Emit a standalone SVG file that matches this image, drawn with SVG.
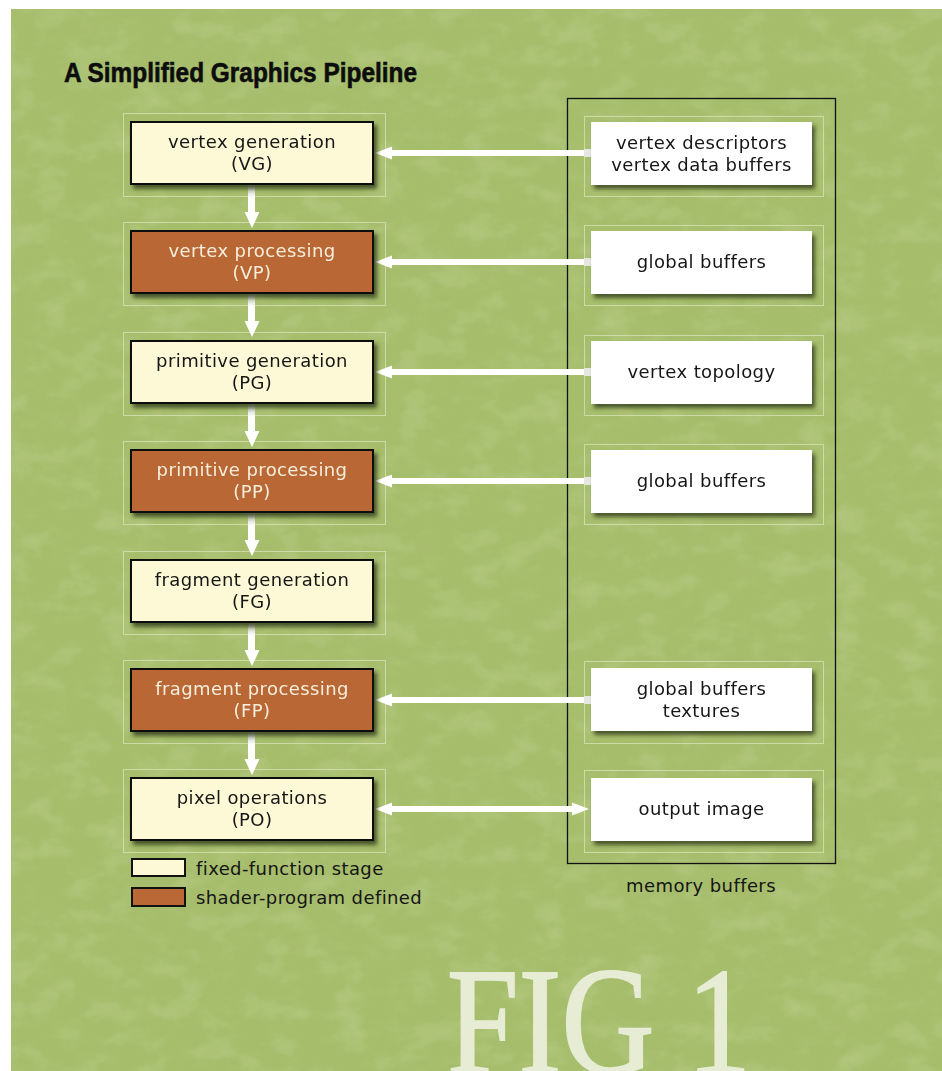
<svg xmlns="http://www.w3.org/2000/svg" width="942" height="1071" viewBox="0 0 942 1071">
<defs>
<style>
.lbl{font-family:"DejaVu Sans","Liberation Sans",sans-serif;font-size:18px;letter-spacing:0.4px;text-anchor:middle;fill:#151515}
.lbl.light{fill:#f6eedc}
.leg{font-family:"DejaVu Sans","Liberation Sans",sans-serif;font-size:18px;letter-spacing:0.4px;fill:#151515}
.fixed{fill:#fdf8d6;stroke:#111;stroke-width:2}
.shader{fill:#b96836;stroke:#111;stroke-width:2}
.mem{fill:#ffffff}
.faint{fill:none;stroke:#d6e2b4;stroke-width:1;opacity:0.8}
.hline{fill:#ffffff}
</style>
<filter id="shadow" x="-10%" y="-20%" width="125%" height="150%">
<feDropShadow dx="3" dy="4" stdDeviation="2" flood-color="#2a3318" flood-opacity="0.75"/>
</filter>
<filter id="tex" x="0" y="0" width="100%" height="100%">
<feTurbulence type="fractalNoise" baseFrequency="0.03 0.045" numOctaves="4" seed="7" result="n"/>
<feColorMatrix in="n" type="matrix" values="0 0 0 0 0.8  0 0 0 0 0.88  0 0 0 0 0.58  0 0 0 1.6 -0.7"/>
</filter>
<linearGradient id="vgrad" x1="0" y1="0" x2="0" y2="1">
<stop offset="0" stop-color="#b8bcb0"/>
<stop offset="0.45" stop-color="#ffffff"/>
<stop offset="1" stop-color="#ffffff"/>
</linearGradient>
</defs>

<rect x="0" y="0" width="942" height="1071" fill="#ffffff"/>
<rect x="11" y="9" width="931" height="1062" fill="#a6bd6c"/>
<rect x="11" y="9" width="931" height="1062" filter="url(#tex)" opacity="0.25"/>

<text x="64" y="82" font-family="'Liberation Sans',Arial,sans-serif" font-weight="bold" font-size="27" textLength="353" lengthAdjust="spacingAndGlyphs" fill="#0d0d0d" stroke="#0d0d0d" stroke-width="0.6">A Simplified Graphics Pipeline</text>

<text x="447" y="1073" font-family="'Liberation Serif','Times New Roman',serif" font-size="152" textLength="304" lengthAdjust="spacingAndGlyphs" fill="#edf0de" stroke="#edf0de" stroke-width="2" opacity="0.92">FIG 1</text>

<g id="memory-buffers">
<rect x="567.5" y="98.5" width="268" height="765" fill="none" stroke="#111" stroke-width="1.3"/>
<text class="leg" x="701" y="892" text-anchor="middle">memory buffers</text>
</g>

<g id="faint-frames">
<rect class="faint" x="123.5" y="113.5" width="262" height="83"/>
<rect class="faint" x="123.5" y="222.5" width="262" height="83"/>
<rect class="faint" x="123.5" y="332.5" width="262" height="83"/>
<rect class="faint" x="123.5" y="441.5" width="262" height="83"/>
<rect class="faint" x="123.5" y="551.5" width="262" height="83"/>
<rect class="faint" x="123.5" y="660.5" width="262" height="83"/>
<rect class="faint" x="123.5" y="769.5" width="262" height="83"/>
<rect class="faint" x="584.5" y="116.5" width="239" height="80"/>
<rect class="faint" x="584.5" y="225.5" width="239" height="80"/>
<rect class="faint" x="584.5" y="335.5" width="239" height="80"/>
<rect class="faint" x="584.5" y="444.5" width="239" height="80"/>
<rect class="faint" x="584.5" y="661.5" width="239" height="82"/>
<rect class="faint" x="584.5" y="770.5" width="239" height="82"/>
</g>

<g id="connectors">
<rect x="248" y="185" width="7" height="28" fill="url(#vgrad)"/>
<polygon points="244.5,212 259.5,212 252,228" fill="#fff"/>
<rect x="248" y="294" width="7" height="28" fill="url(#vgrad)"/>
<polygon points="244.5,321 259.5,321 252,337" fill="#fff"/>
<rect x="248" y="404" width="7" height="28" fill="url(#vgrad)"/>
<polygon points="244.5,431 259.5,431 252,447" fill="#fff"/>
<rect x="248" y="513" width="7" height="28" fill="url(#vgrad)"/>
<polygon points="244.5,540 259.5,540 252,556" fill="#fff"/>
<rect x="248" y="623" width="7" height="28" fill="url(#vgrad)"/>
<polygon points="244.5,650 259.5,650 252,666" fill="#fff"/>
<rect x="248" y="732" width="7" height="28" fill="url(#vgrad)"/>
<polygon points="244.5,759 259.5,759 252,775" fill="#fff"/>
<rect class="hline" x="390" y="150" width="195" height="6"/>
<rect x="584" y="149" width="8" height="8" fill="#e6e6e2"/>
<polygon points="375,153 392,146.5 392,159.5" fill="#fff"/>
<rect class="hline" x="390" y="259" width="195" height="6"/>
<rect x="584" y="258" width="8" height="8" fill="#e6e6e2"/>
<polygon points="375,262 392,255.5 392,268.5" fill="#fff"/>
<rect class="hline" x="390" y="369" width="195" height="6"/>
<rect x="584" y="368" width="8" height="8" fill="#e6e6e2"/>
<polygon points="375,372 392,365.5 392,378.5" fill="#fff"/>
<rect class="hline" x="390" y="478" width="195" height="6"/>
<rect x="584" y="477" width="8" height="8" fill="#e6e6e2"/>
<polygon points="375,481 392,474.5 392,487.5" fill="#fff"/>
<rect class="hline" x="390" y="697" width="195" height="6"/>
<rect x="584" y="696" width="8" height="8" fill="#e6e6e2"/>
<polygon points="375,700 392,693.5 392,706.5" fill="#fff"/>
<rect class="hline" x="390" y="806" width="184" height="6"/>
<polygon points="375,809 392,802.5 392,815.5" fill="#fff"/>
<polygon points="589,809 572,802.5 572,815.5" fill="#fff"/>
</g>

<g id="node-VG" filter="url(#shadow)">
<rect class="fixed" x="131" y="122" width="242" height="62"/>
<text class="lbl" x="252" y="148">vertex generation</text>
<text class="lbl" x="252" y="170">(VG)</text>
</g>
<g id="node-VP" filter="url(#shadow)">
<rect class="shader" x="131" y="231" width="242" height="62"/>
<text class="lbl light" x="252" y="257">vertex processing</text>
<text class="lbl light" x="252" y="279">(VP)</text>
</g>
<g id="node-PG" filter="url(#shadow)">
<rect class="fixed" x="131" y="341" width="242" height="62"/>
<text class="lbl" x="252" y="367">primitive generation</text>
<text class="lbl" x="252" y="389">(PG)</text>
</g>
<g id="node-PP" filter="url(#shadow)">
<rect class="shader" x="131" y="450" width="242" height="62"/>
<text class="lbl light" x="252" y="476">primitive processing</text>
<text class="lbl light" x="252" y="498">(PP)</text>
</g>
<g id="node-FG" filter="url(#shadow)">
<rect class="fixed" x="131" y="560" width="242" height="62"/>
<text class="lbl" x="252" y="586">fragment generation</text>
<text class="lbl" x="252" y="608">(FG)</text>
</g>
<g id="node-FP" filter="url(#shadow)">
<rect class="shader" x="131" y="669" width="242" height="62"/>
<text class="lbl light" x="252" y="695">fragment processing</text>
<text class="lbl light" x="252" y="717">(FP)</text>
</g>
<g id="node-PO" filter="url(#shadow)">
<rect class="fixed" x="131" y="778" width="242" height="62"/>
<text class="lbl" x="252" y="804">pixel operations</text>
<text class="lbl" x="252" y="826">(PO)</text>
</g>

<g id="mem-vertex" filter="url(#shadow)">
<rect class="mem" x="591" y="122" width="221" height="63"/>
<text class="lbl" x="701.5" y="149">vertex descriptors</text>
<text class="lbl" x="701.5" y="171">vertex data buffers</text>
</g>
<g id="mem-global1" filter="url(#shadow)">
<rect class="mem" x="591" y="231" width="221" height="63"/>
<text class="lbl" x="701.5" y="268">global buffers</text>
</g>
<g id="mem-topology" filter="url(#shadow)">
<rect class="mem" x="591" y="341" width="221" height="63"/>
<text class="lbl" x="701.5" y="378">vertex topology</text>
</g>
<g id="mem-global2" filter="url(#shadow)">
<rect class="mem" x="591" y="450" width="221" height="63"/>
<text class="lbl" x="701.5" y="487">global buffers</text>
</g>
<g id="mem-textures" filter="url(#shadow)">
<rect class="mem" x="591" y="668" width="221" height="63"/>
<text class="lbl" x="701.5" y="695">global buffers</text>
<text class="lbl" x="701.5" y="717">textures</text>
</g>
<g id="mem-output" filter="url(#shadow)">
<rect class="mem" x="591" y="778" width="221" height="63"/>
<text class="lbl" x="701.5" y="815">output image</text>
</g>

<g id="legend">
<rect class="fixed" x="132" y="859" width="53" height="17" stroke-width="1.5"/>
<text class="leg" x="196" y="875">fixed-function stage</text>
<rect class="shader" x="132" y="888" width="53" height="18" stroke-width="1.5"/>
<text class="leg" x="196" y="904">shader-program defined</text>
</g>
</svg>
